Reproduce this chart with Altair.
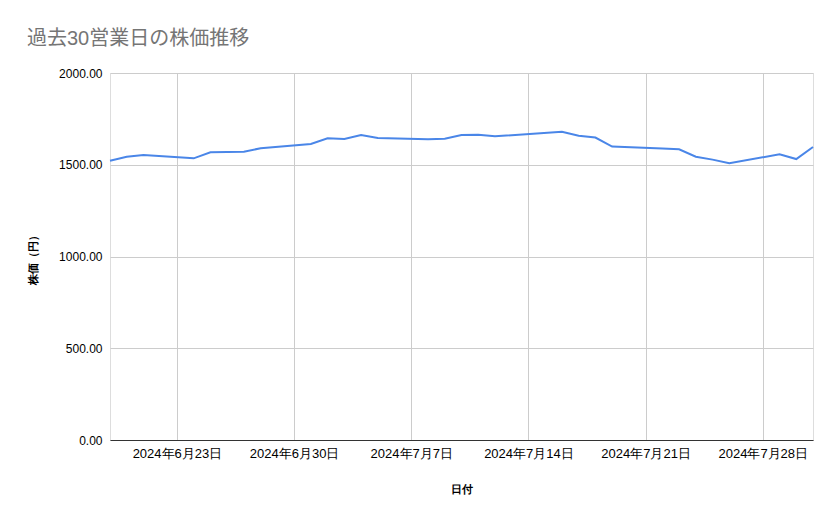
import altair as alt
import pandas as pd

dates = [
    "2024-06-19", "2024-06-20", "2024-06-21", "2024-06-24", "2024-06-25",
    "2024-06-26", "2024-06-27", "2024-06-28", "2024-07-01", "2024-07-02",
    "2024-07-03", "2024-07-04", "2024-07-05", "2024-07-08", "2024-07-09",
    "2024-07-10", "2024-07-11", "2024-07-12", "2024-07-16", "2024-07-17",
    "2024-07-18", "2024-07-19", "2024-07-22", "2024-07-23", "2024-07-24",
    "2024-07-25", "2024-07-26", "2024-07-29", "2024-07-30", "2024-07-31",
]
prices = [
    1522, 1544, 1553, 1535, 1568,
    1570, 1571, 1590, 1613, 1644,
    1640, 1662, 1646, 1639, 1642,
    1662, 1664, 1655, 1680, 1658,
    1648, 1599, 1588, 1584, 1544,
    1528, 1508, 1557, 1531, 1597,
]
tick_days = [(6, 23), (6, 30), (7, 7), (7, 14), (7, 21), (7, 28)]
y_ticks = [0, 500, 1000, 1500, 2000]

df = pd.DataFrame({"日付": dates, "株価": prices})

FONT = "'Liberation Sans', Arial, 'Noto Sans CJK JP', sans-serif"

x_axis = alt.Axis(
    values=[alt.DateTime(year=2024, month=m, date=d, utc=True) for m, d in tick_days],
    labelExpr="utcFormat(datum.value, '%Y年%-m月%-d日')",
    title="日付",
    grid=True,
    gridColor="#cccccc",
    ticks=False,
    domain=True,
    domainColor="#333333",
    labelPadding=7,
    labelFlush=False,
    labelFontSize=13,
    titleY=49,
    titleBaseline="middle",
)

y_axis = alt.Axis(
    values=y_ticks,
    format=".2f",
    title="株価（円）",
    grid=True,
    gridColor="#cccccc",
    ticks=False,
    domain=False,
    labelPadding=8,
    labelFontSize=12,
    titleX=-77,
    titleY=183.5,
    titleAlign="center",
    titleBaseline="middle",
)

chart = (
    alt.Chart(df)
    .mark_line(color="#4a86e8", strokeWidth=2)
    .encode(
        x=alt.X(
            "日付:T",
            scale=alt.Scale(
                type="utc",
                domain=[
                    alt.DateTime(year=2024, month=6, date=19, utc=True),
                    alt.DateTime(year=2024, month=7, date=31, utc=True),
                ],
                nice=False,
            ),
            axis=x_axis,
        ),
        y=alt.Y(
            "株価:Q",
            scale=alt.Scale(domain=[0, 2000], nice=False),
            axis=y_axis,
        ),
    )
    .properties(
        width=703,
        height=367,
        title=alt.TitleParams(
            "過去30営業日の株価推移",
            anchor="start",
            dy=-14,
            fontSize=20,
            fontWeight="normal",
            color="#757575",
            font=FONT,
        ),
        autosize=alt.AutoSizeParams(type="none"),
        padding={"left": 102, "top": 65, "right": 18, "bottom": 71},
    )
    .configure_view(stroke=None)
    .configure_axis(
        labelFont=FONT,
        titleFont=FONT,
        titleFontSize=12,
        labelColor="#222222",
        titleColor="#222222",
        titleFontWeight="bold",
    )
    .configure(background="white")
)

chart.save("out.html", embed_options={"renderer": "svg", "actions": False})
